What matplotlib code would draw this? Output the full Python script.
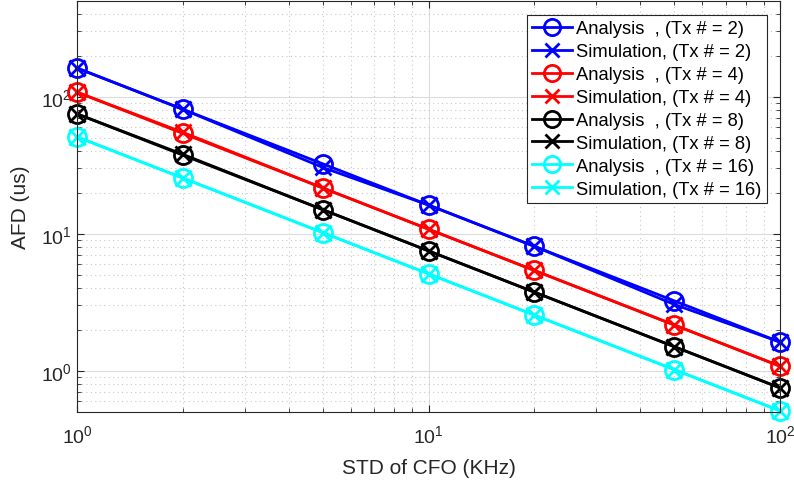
import matplotlib
matplotlib.use("Agg")
import matplotlib.pyplot as plt
import numpy as np

plt.rcParams['font.family'] = ['Liberation Sans', 'DejaVu Sans']

std_cfo = [1, 2, 5, 10, 20, 50, 100]
tx_counts = [2, 4, 8, 16]
colors = ['#0000ff', '#ff0000', '#000000', '#00ffff']

analysis = {
    2: [162, 81, 32.4, 16.2, 8.1, 3.24, 1.62],
    4: [108, 54, 21.6, 10.8, 5.4, 2.16, 1.08],
    8: [75, 37.5, 15.0, 7.5, 3.75, 1.5, 0.75],
    16: [51, 25.5, 10.2, 5.1, 2.55, 1.02, 0.51],
}
simulation = {
    2: [162, 81, 30.5, 16.2, 8.1, 3.05, 1.62],
    4: [108, 55, 21.6, 10.8, 5.4, 2.16, 1.08],
    8: [75, 38, 15.0, 7.5, 3.75, 1.5, 0.75],
    16: [51, 25.5, 10.2, 5.1, 2.55, 1.02, 0.51],
}

fig = plt.figure(figsize=(7.94, 4.89), dpi=100)
ax = fig.add_axes([77/794, 1 - 413/489, (780-77)/794, (413-2)/489])

for tx, c in zip(tx_counts, colors):
    ax.plot(std_cfo, analysis[tx], '-', color=c, lw=2, marker='o', ms=13,
            mfc='none', mew=2, label=f'Analysis  , (Tx # = {tx})', clip_on=False)
    ax.plot(std_cfo, simulation[tx], '-', color=c, lw=2, marker='x', ms=11,
            mew=2, label=f'Simulation, (Tx # = {tx})', clip_on=False)

ax.set_xscale('log')
ax.set_yscale('log')
ax.set_xlim(1, 100)
ax.set_ylim(0.5, 500)

ax.grid(True, which='major', color='#dcdcdc', lw=0.8, ls='-')
ax.grid(True, which='minor', color='#c8c8c8', lw=0.8, ls=(0, (1, 3)))
ax.set_axisbelow(True)

for s in ax.spines.values():
    s.set_color('#262626')
    s.set_linewidth(0.8)
ax.tick_params(which='both', direction='in', top=True, right=True, colors='#262626',
               labelsize=14, labelcolor='#262626')
ax.tick_params(which='major', length=5)
ax.tick_params(which='minor', length=3)
ax.tick_params(axis='x', pad=9)

ax.set_xlabel('STD of CFO (KHz)', fontsize=15, color='#262626', labelpad=8)
ax.set_ylabel('AFD (us)', fontsize=15, color='#262626', labelpad=8)

leg = ax.legend(loc='upper right', bbox_to_anchor=(767/794, 1 - 16/489),
                bbox_transform=fig.transFigure, fontsize=13.2, handlelength=2.15,
                handletextpad=0.25, labelspacing=0.32, borderpad=0.3,
                borderaxespad=0, fancybox=False, framealpha=1,
                edgecolor='#262626', markerscale=0.9)
leg.get_frame().set_linewidth(0.8)

fig.savefig('out.png', dpi=100)
